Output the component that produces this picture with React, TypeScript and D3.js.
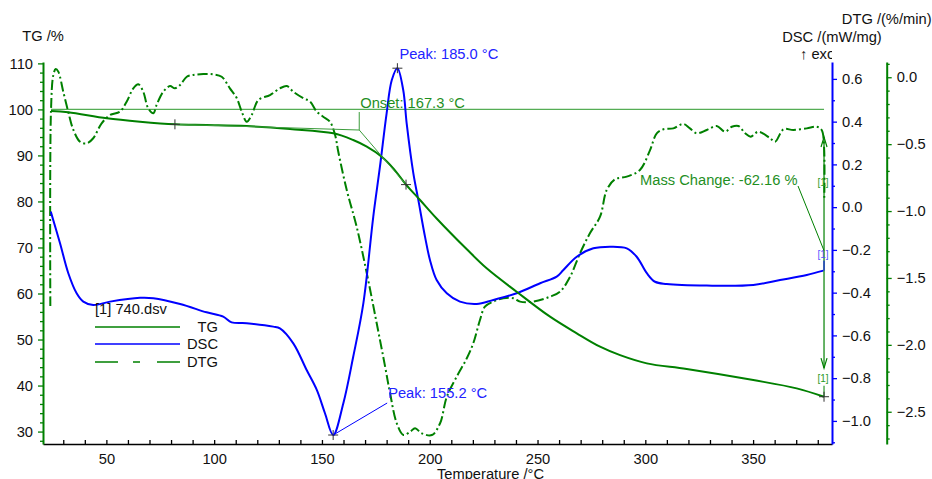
import React, { useRef, useEffect } from 'react';
import * as d3 from 'd3';

// TG curve (temperature °C, mass %)
const tgTemp = [24.3, 32.3, 50.2, 65.6, 81.8, 96.5, 115.1, 135.2, 155.3, 164.5, 170.8, 177.7, 183.1, 189.0, 195.5, 203.2, 217.2, 226.4, 240.3, 255.8, 268.2, 279.0, 288.3, 300.7, 319.2, 350.1, 370.2, 382.9];
const tgValues = [99.65, 99.37, 98.07, 97.33, 96.76, 96.61, 96.39, 95.74, 94.81, 93.35, 91.9, 89.72, 87.2, 83.66, 80.31, 76.3, 69.6, 65.47, 60.39, 54.96, 51.35, 48.44, 46.6, 44.82, 43.59, 41.19, 39.39, 37.57];

// DSC curve (mW/mg)
const dscTemp = [24.2, 28.5, 32.3, 36.2, 39.3, 43.9, 51.7, 65.6, 71.8, 84.2, 96.5, 104.2, 108.1, 115.1, 127.4, 130.5, 136.7, 142.9, 147.6, 151.4, 155.2, 159.9, 164.5, 169.2, 173.8, 176.9, 180.0, 182.4, 185.0, 187.7, 189.3, 192.4, 194.7, 197.8, 200.1, 203.2, 207.9, 214.0, 221.8, 229.5, 240.3, 251.2, 258.9, 262.0, 268.2, 275.9, 283.6, 291.4, 296.0, 300.7, 304.5, 309.9, 328.5, 350.1, 362.5, 374.9, 382.6];
const dscValues = [-0.021, -0.169, -0.308, -0.403, -0.442, -0.458, -0.442, -0.424, -0.426, -0.453, -0.492, -0.5125, -0.539, -0.543, -0.559, -0.567, -0.637, -0.762, -0.855, -0.964, -1.066, -0.918, -0.7, -0.45, -0.045, 0.189, 0.439, 0.595, 0.65, 0.548, 0.392, 0.158, 0.034, -0.138, -0.247, -0.341, -0.403, -0.442, -0.453, -0.434, -0.403, -0.356, -0.325, -0.294, -0.232, -0.1925, -0.185, -0.1925, -0.232, -0.309, -0.349, -0.3595, -0.367, -0.364, -0.341, -0.317, -0.297];

// DTG curve (%/min)
const dtgTemp = [24.0, 24.3, 25.4, 26.5, 27.7, 30.0, 32.3, 34.7, 37.8, 40.9, 43.9, 47.8, 51.7, 56.3, 59.4, 62.5, 64.8, 67.1, 69.4, 71.8, 73.3, 76.4, 79.5, 81.8, 84.2, 87.3, 90.3, 95.0, 99.6, 103.5, 107.3, 110.5, 112.8, 115.1, 117.4, 120.5, 125.9, 130.5, 133.7, 136.7, 141.4, 144.5, 147.6, 150.6, 153.7, 156.1, 157.6, 161.5, 166.1, 170.8, 175.4, 179.3, 181.6, 184.7, 187.8, 190.9, 193.2, 196.3, 201.0, 204.8, 207.9, 212.5, 217.2, 220.2, 223.3, 225.6, 229.5, 234.1, 238.8, 241.9, 248.0, 255.8, 260.4, 265.1, 269.7, 274.3, 279.0, 282.1, 285.9, 291.4, 297.5, 302.2, 305.3, 308.4, 313.0, 317.6, 320.7, 323.8, 328.5, 333.1, 337.0, 340.1, 343.2, 346.3, 348.9, 352.4, 357.9, 360.2, 364.1, 368.7, 374.9, 379.5, 381.8, 382.9, 383.0];
const dtgValues = [-1.71, -0.252, 0.017, 0.062, 0.042, -0.108, -0.257, -0.394, -0.482, -0.494, -0.456, -0.344, -0.282, -0.257, -0.183, -0.083, -0.053, -0.108, -0.232, -0.269, -0.207, -0.108, -0.066, -0.083, -0.058, 0.004, 0.017, 0.024, 0.022, 0.004, -0.083, -0.157, -0.257, -0.332, -0.282, -0.17, -0.133, -0.083, -0.066, -0.108, -0.157, -0.182, -0.257, -0.295, -0.332, -0.432, -0.559, -0.843, -1.117, -1.465, -1.839, -2.163, -2.362, -2.586, -2.674, -2.649, -2.624, -2.661, -2.674, -2.586, -2.388, -2.238, -2.1, -1.988, -1.814, -1.715, -1.677, -1.652, -1.652, -1.677, -1.677, -1.64, -1.603, -1.491, -1.316, -1.166, -1.042, -0.843, -0.763, -0.743, -0.693, -0.544, -0.419, -0.389, -0.382, -0.349, -0.382, -0.419, -0.394, -0.364, -0.407, -0.37, -0.364, -0.419, -0.444, -0.407, -0.456, -0.482, -0.389, -0.394, -0.382, -0.37, -0.394, -0.519, -0.917];

// axis ticks
const xTicks = [50, 100, 150, 200, 250, 300, 350];
const tgTicks = [30, 40, 50, 60, 70, 80, 90, 100, 110];
const dscTicks = [-1.0, -0.8, -0.6, -0.4, -0.2, 0.0, 0.2, 0.4, 0.6];
const dtgTicks = [-2.5, -2.0, -1.5, -1.0, -0.5, 0.0];

// evaluation results
const onset = { temp: 167.3, tg: 95.52, label: 'Onset: 167.3 °C' };
const baselineStart = { temp: 81.8, tg: 96.76 };
const inflection = { temp: 189.0, tg: 83.66 };
const peakHigh = { temp: 185.0, dsc: 0.65, label: 'Peak: 185.0 °C' };
const peakLow = { temp: 155.2, dsc: -1.066, label: 'Peak: 155.2 °C' };
const massChange = { temp: 382.9, top: 94.0, bottom: 43.8, end: 37.57, label: 'Mass Change: -62.16 %' };

const GREEN = '#008000';
const BLUE = '#0000ff';
const TEXT = '#111';
const FONT = '"Liberation Sans", Arial, sans-serif';
const FS = '14.7px';

function ThermoChart() {
  const svgRef = useRef<SVGSVGElement>(null);

  useEffect(() => {
    const svg = d3.select(svgRef.current);
    svg.selectAll('*').remove();

    const left = 43, right = 832, top = 62, bottom = 444;
    const dtgAxisX = 886.7;

    const x = d3.scaleLinear().domain([20.6, 386.6]).range([left, right]);
    const yTG = d3.scaleLinear().domain([27.3, 110.3]).range([bottom, top]);
    const yDSC = d3.scaleLinear().domain([-1.108, 0.679]).range([bottom, top]);
    const yDTG = d3.scaleLinear().domain([-2.741, 0.114]).range([bottom, top]);

    svg.append('defs').append('clipPath').attr('id', 'plot-clip')
      .append('rect').attr('x', left).attr('y', top - 10).attr('width', right - left).attr('height', bottom - top + 10);
    svg.select('defs').append('clipPath').attr('id', 'exo-clip')
      .append('rect').attr('x', 700).attr('y', 40).attr('width', right - 700).attr('height', 30);

    const styleAxis = (g: any, color: string, width: number) => {
      g.select('.domain').attr('stroke', color).attr('stroke-width', width);
      g.selectAll('.tick line').attr('stroke', color).attr('stroke-width', 1.3);
      g.selectAll('.tick text').attr('fill', TEXT).style('font-size', FS).style('font-family', FONT);
    };

    // bottom axis
    const xMinor = d3.range(30, 390, 10).filter(d => d % 50 !== 0);
    const gx = svg.append('g').attr('transform', `translate(0,${bottom})`)
      .call(d3.axisBottom(x).tickValues(xTicks).tickSize(-4).tickSizeOuter(0).tickPadding(10).tickFormat(d3.format('d')));
    styleAxis(gx, '#000', 1.5);
    svg.append('g').attr('transform', `translate(0,${bottom})`)
      .call(d3.axisBottom(x).tickValues(xMinor).tickSize(-4).tickSizeOuter(0).tickFormat(() => ''))
      .call(g => { g.select('.domain').remove(); g.selectAll('.tick line').attr('stroke', '#000').attr('stroke-width', 1.3); });

    // TG axis
    const tgMinor = d3.range(28, 111, 2).filter(d => d % 10 !== 0);
    const gTG = svg.append('g').attr('transform', `translate(${left},0)`)
      .call(d3.axisLeft(yTG).tickValues(tgTicks).tickSize(5).tickSizeOuter(0).tickPadding(5).tickFormat(d3.format('d')));
    styleAxis(gTG, GREEN, 2);
    svg.append('g').attr('transform', `translate(${left},0)`)
      .call(d3.axisLeft(yTG).tickValues(tgMinor).tickSize(3).tickSizeOuter(0).tickFormat(() => ''))
      .call(g => { g.select('.domain').remove(); g.selectAll('.tick line').attr('stroke', GREEN).attr('stroke-width', 1.3); });

    // DSC axis
    const dscMinor = d3.range(-11, 7).map(d => d / 10).filter(d => Math.abs(Math.round(d * 10)) % 2 === 1);
    const gDSC = svg.append('g').attr('transform', `translate(${right},0)`)
      .call(d3.axisRight(yDSC).tickValues(dscTicks).tickSize(5).tickSizeOuter(0).tickPadding(5).tickFormat(d3.format('.1f')));
    styleAxis(gDSC, BLUE, 2);
    svg.append('g').attr('transform', `translate(${right},0)`)
      .call(d3.axisRight(yDSC).tickValues(dscMinor).tickSize(3).tickSizeOuter(0).tickFormat(() => ''))
      .call(g => { g.select('.domain').remove(); g.selectAll('.tick line').attr('stroke', BLUE).attr('stroke-width', 1.3); });

    // DTG axis
    const dtgMinor = d3.range(-27, 2).map(d => d / 10).filter(d => Math.abs(Math.round(d * 10)) % 5 !== 0);
    const gDTG = svg.append('g').attr('transform', `translate(${dtgAxisX},0)`)
      .call(d3.axisRight(yDTG).tickValues(dtgTicks).tickSize(5).tickSizeOuter(0).tickPadding(5).tickFormat(d3.format('.1f')));
    styleAxis(gDTG, GREEN, 2);
    svg.append('g').attr('transform', `translate(${dtgAxisX},0)`)
      .call(d3.axisRight(yDTG).tickValues(dtgMinor).tickSize(3).tickSizeOuter(0).tickFormat(() => ''))
      .call(g => { g.select('.domain').remove(); g.selectAll('.tick line').attr('stroke', GREEN).attr('stroke-width', 1.3); });

    // axis titles
    const title = (tx: number, ty: number, text: string, anchor = 'middle', color = TEXT) =>
      svg.append('text').attr('x', tx).attr('y', ty).attr('text-anchor', anchor)
        .style('font-family', FONT).style('font-size', FS).attr('fill', color).text(text);
    title(left, 41, 'TG /%');
    title(dtgAxisX, 24, 'DTG /(%/min)');
    title(right, 42, 'DSC /(mW/mg)');
    title(800, 59, '↑ exo', 'start').attr('clip-path', 'url(#exo-clip)');
    title((left + right) / 2 + 53, 479, 'Temperature /°C');

    const plot = svg.append('g').attr('clip-path', 'url(#plot-clip)');

    // TG = 100 % reference line
    plot.append('line')
      .attr('x1', x(tgTemp[0])).attr('x2', x(massChange.temp))
      .attr('y1', yTG(100)).attr('y2', yTG(100))
      .attr('stroke', '#55ad55').attr('stroke-width', 1.2);

    const curve = d3.curveCatmullRom.alpha(0.5);

    const dtgLine = d3.line<number>().x((_, i) => x(dtgTemp[i])).y(d => yDTG(d)).curve(curve);
    plot.append('path').datum(dtgValues).attr('d', dtgLine)
      .attr('fill', 'none').attr('stroke', GREEN).attr('stroke-width', 2).attr('stroke-dasharray', '10,3,2,3');

    const dscLine = d3.line<number>().x((_, i) => x(dscTemp[i])).y(d => yDSC(d)).curve(curve);
    plot.append('path').datum(dscValues).attr('d', dscLine)
      .attr('fill', 'none').attr('stroke', BLUE).attr('stroke-width', 2);

    const tgLine = d3.line<number>().x((_, i) => x(tgTemp[i])).y(d => yTG(d)).curve(curve);
    plot.append('path').datum(tgValues).attr('d', tgLine)
      .attr('fill', 'none').attr('stroke', GREEN).attr('stroke-width', 2);

    // onset construction
    const ox = x(onset.temp), oy = yTG(onset.tg);
    const thin = (x1: number, y1: number, x2: number, y2: number, color: string, w = 1) =>
      svg.append('line').attr('x1', x1).attr('y1', y1).attr('x2', x2).attr('y2', y2)
        .attr('stroke', color).attr('stroke-width', w);
    thin(x(baselineStart.temp), yTG(baselineStart.tg), ox, oy, '#3c9c3c');
    thin(ox, oy, x(inflection.temp), yTG(inflection.tg), '#3c9c3c');
    thin(ox, oy, ox, oy - 18, '#3c9c3c');
    title(ox + 1, oy - 22, onset.label, 'start', '#1f8f1f');

    // cross markers
    const cross = (cx: number, cy: number) => {
      thin(cx - 5, cy, cx + 5, cy, '#333', 1);
      thin(cx, cy - 5, cx, cy + 5, '#333', 1);
    };
    cross(x(baselineStart.temp), yTG(baselineStart.tg));
    cross(x(inflection.temp), yTG(inflection.tg));

    // DSC peaks
    const p1x = x(peakHigh.temp), p1y = yDSC(peakHigh.dsc);
    cross(p1x, p1y);
    title(p1x + 2, p1y - 9, peakHigh.label, 'start', '#2222ff');
    const p2x = x(peakLow.temp), p2y = yDSC(peakLow.dsc);
    cross(p2x, p2y);
    thin(p2x, p2y, p2x + 54, p2y - 32, BLUE);
    title(p2x + 55, p2y - 37, peakLow.label, 'start', '#2222ff');

    // mass change
    const mx = x(massChange.temp);
    const mTop = yTG(massChange.top), mBot = yTG(massChange.bottom), mEnd = yTG(massChange.end);
    thin(mx, mTop, mx, mBot, GREEN, 1.2);
    svg.append('path').attr('d', `M${mx - 3},${mTop + 10}L${mx},${mTop}L${mx + 3},${mTop + 10}`)
      .attr('fill', 'none').attr('stroke', GREEN).attr('stroke-width', 1.2);
    svg.append('path').attr('d', `M${mx - 3},${mBot - 10}L${mx},${mBot}L${mx + 3},${mBot - 10}`)
      .attr('fill', 'none').attr('stroke', GREEN).attr('stroke-width', 1.2);
    thin(mx, mEnd - 11, mx, mEnd, GREEN, 1);
    cross(mx, mEnd);
    const small = (tx: number, ty: number, text: string, color: string) =>
      svg.append('text').attr('x', tx).attr('y', ty).attr('text-anchor', 'middle')
        .style('font-family', FONT).style('font-size', '10px').attr('fill', color).text(text);
    small(mx - 1, mBot + 14, '[1]', '#2a9a2a');
    small(mx - 1, yTG(massChange.top) + 49, '[1]', '#2a9a2a');
    const dscEndY = yDSC(dscValues[dscValues.length - 1]);
    thin(mx, dscEndY, mx, dscEndY - 10, BLUE, 1);
    small(mx - 1, dscEndY - 13, '[1]', '#5555ff');
    thin(mx - 26, 186, mx, dscEndY - 20, GREEN, 1);
    title(mx - 184, 185, massChange.label, 'start', '#1f8f1f');

    // legend
    const lg = svg.append('g');
    lg.append('text').attr('x', 95).attr('y', 314).style('font-family', FONT).style('font-size', FS)
      .attr('fill', TEXT).text('[1] 740.dsv');
    const items = [
      { name: 'TG', color: GREEN, dash: null, y: 327 },
      { name: 'DSC', color: BLUE, dash: null, y: 344 },
      { name: 'DTG', color: GREEN, dash: '23,15,7,17,23', y: 362 },
    ];
    items.forEach(it => {
      lg.append('line').attr('x1', 95).attr('x2', 180).attr('y1', it.y).attr('y2', it.y)
        .attr('stroke', it.color).attr('stroke-width', 1.3).attr('stroke-dasharray', it.dash);
      lg.append('text').attr('x', 218).attr('y', it.y + 5).attr('text-anchor', 'end')
        .style('font-family', FONT).style('font-size', FS).attr('fill', TEXT).text(it.name);
    });
  }, []);

  return <svg ref={svgRef} width={932} height={479} style={{ position: 'absolute', left: 0, top: 0, background: '#fff' }} />;
}

export default function App() {
  return <ThermoChart />;
}
